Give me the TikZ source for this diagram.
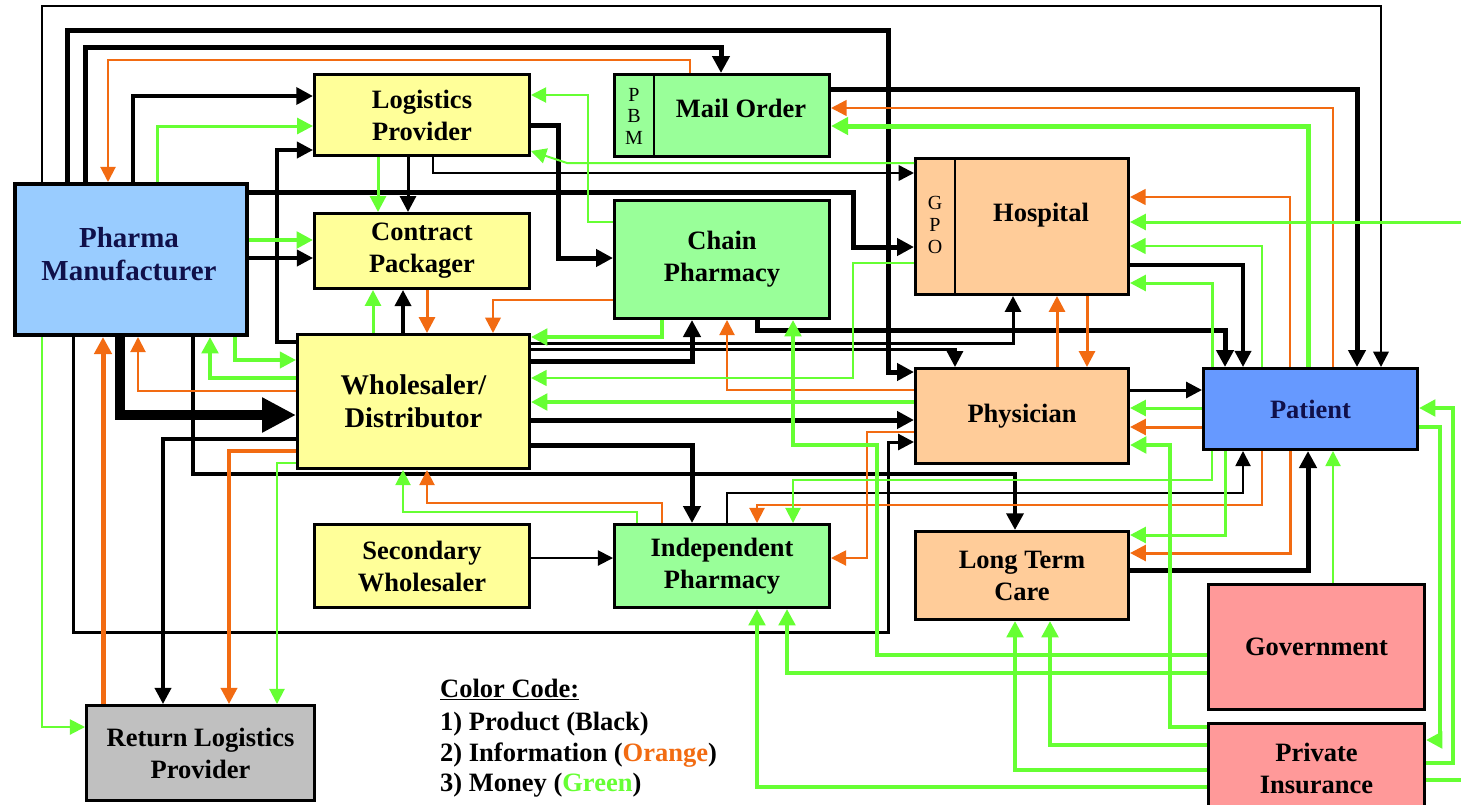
\documentclass[tikz,border=0pt]{standalone}
\usepackage{fontspec}
\setmainfont{Liberation Serif}
\usetikzlibrary{arrows.meta}
\definecolor{lblue}{HTML}{99CCFF}
\definecolor{pblue}{HTML}{6699FF}
\definecolor{yel}{HTML}{FFFF99}
\definecolor{lgr}{HTML}{99FF99}
\definecolor{peach}{HTML}{FFCC99}
\definecolor{pinkb}{HTML}{FF9999}
\definecolor{gryb}{HTML}{C0C0C0}
\definecolor{lnG}{HTML}{66FF33}
\definecolor{lnO}{HTML}{F26B12}
\definecolor{navy}{HTML}{10104A}
\tikzset{
  box/.style={draw=black, line width=3pt, inner sep=0pt, anchor=north west,
    font=\fontsize{26.5}{32}\selectfont\bfseries, align=center},
  lbl/.style={inner sep=0pt, font=\fontsize{26.5}{32}\selectfont\bfseries, align=center},
  small/.style={inner sep=0pt, font=\fontsize{20}{21.5}\selectfont, align=center},
  leg/.style={inner sep=0pt, anchor=base west, font=\fontsize{26.5}{32}\selectfont\bfseries},
  ak/.style={draw=black, line width=#1, -{Triangle[length=14pt 0.6, width=14pt 0.6]}},
  ao/.style={draw=lnO, line width=#1, -{Triangle[length=14pt 0.6, width=14pt 0.6]}},
  ag/.style={draw=lnG, line width=#1, -{Triangle[length=14pt 0.6, width=14pt 0.6]}},
}
\begin{document}
\begin{tikzpicture}[x=1pt,y=-1pt]
\fill[white] (0,0) rectangle (1461,804);
\useasboundingbox (0,0) rectangle (1461,804);

% boxes
\node[box, line width=4pt, fill=lblue, minimum width=232pt, minimum height=151pt] (pharma) at (13,182) {};
\node[lbl, text=navy, font=\fontsize{29}{33}\selectfont\bfseries] (pharmatxt) at (129,254) {Pharma\\Manufacturer};
\node[box, fill=yel, minimum width=215pt, minimum height=81pt] (lp) at (313,73) {Logistics\\Provider};
\node[box, fill=yel, minimum width=215pt, minimum height=75pt] (cp) at (313,212) {Contract\\Packager};
\node[box, fill=yel, minimum width=232pt, minimum height=134pt, font=\fontsize{28.5}{33}\selectfont\bfseries] (whole) at (296,333) {Wholesaler/\\Distributor};
\node[box, fill=yel, minimum width=215pt, minimum height=83pt] (sec) at (313,523) {Secondary\\Wholesaler};
\node[box, fill=lgr, minimum width=215pt, minimum height=82pt] (mail) at (613,73) {};
\node[box, fill=lgr, minimum width=215pt, minimum height=118pt] (chain) at (613,199) {Chain\\Pharmacy};
\node[box, fill=lgr, minimum width=215pt, minimum height=83pt] (indep) at (613,523) {Independent\\Pharmacy};
\node[box, fill=peach, minimum width=213pt, minimum height=136pt] (hosp) at (914,157) {};
\node[box, fill=peach, minimum width=213pt, minimum height=95pt] (phys) at (914,367) {Physician};
\node[box, fill=peach, minimum width=213pt, minimum height=88pt] (ltc) at (914,530) {Long Term\\Care};
\node[box, fill=pblue, text=navy, minimum width=214pt, minimum height=81pt] (patient) at (1202,367) {Patient};
\node[box, fill=pinkb, minimum width=216pt, minimum height=125pt] (gov) at (1207,583) {Government};
\node[box, fill=pinkb, minimum width=216pt, minimum height=90pt] (pi) at (1207,722) {Private\\Insurance};
\node[box, fill=gryb, minimum width=228pt, minimum height=95pt] (rl) at (85,704) {Return Logistics\\Provider};

% dividers and inner labels
\draw[line width=2pt] ([xshift=41pt]mail.north west) -- ([xshift=41pt]mail.south west);
\draw[line width=2pt] ([xshift=41pt]hosp.north west) -- ([xshift=41pt]hosp.south west);
\node[small] (pbm) at (634,116) {P\\B\\M};
\node[lbl] (mailtxt) at (741,108) {Mail Order};
\node[small, font=\fontsize{20}{22}\selectfont] (gpo) at (935,225) {G\\P\\O};
\node[lbl] (hosptxt) at (1041,215) {Hospital};

% ---------- black: product ----------
\draw[ak=2.5pt] (pharma.north -| 42,0) -- (42,6) -- (1381,6) -- (patient.north -| 1381,0);
\draw[ak=5pt] (pharma.north -| 67,0) -- (67,30) -- (888,30) -- (888,372) -- (phys.west |- 0,372);
\draw[ak=5pt] (pharma.north -| 85,0) -- (85,47) -- (721,47) -- (mail.north -| 721,0);
\draw[ak=4.5pt] (pharma.north -| 133,0) -- (133,96) -- (lp.west |- 0,96);
\draw[ak=3.5pt] (whole.west |- 0,342) -- (277,342) -- (277,150) -- (lp.west |- 0,150);
\draw[ak=5pt] (pharma.east |- 0,192) -- (853,192) -- (853,247) -- (hosp.west |- 0,247);
\draw[ak=3.5pt] (pharma.east |- 0,258) -- (cp.west |- 0,258);
\draw[ak=3pt] (lp.south -| 408,0) -- (cp.north -| 408,0);
\draw[ak=2.5pt] (lp.south -| 433,0) -- (433,173) -- (hosp.west |- 0,173);
\draw[ak=5pt] (lp.east |- 0,125) -- (558,125) -- (558,258) -- (chain.west |- 0,258);
\draw[ak=5pt] (mail.east |- 0,89) -- (1357,89) -- (patient.north -| 1357,0);
\draw[ak=3.5pt] (hosp.east |- 0,265) -- (1243,265) -- (patient.north -| 1243,0);
\draw[ak=5pt] (chain.south -| 757,0) -- (757,330) -- (1225,330) -- (patient.north -| 1225,0);
\draw[ak=3pt] (whole.east |- 0,343) -- (1013,343) -- (hosp.south -| 1013,0);
\draw[ak=3pt] (whole.east |- 0,349) -- (955,349) -- (phys.north -| 955,0);
\draw[ak=5pt] (whole.east |- 0,361) -- (692,361) -- (chain.south -| 692,0);
\draw[ak=5pt] (whole.east |- 0,420) -- (phys.west |- 0,420);
\draw[ak=5pt] (whole.east |- 0,445) -- (692,445) -- (indep.north -| 692,0);
\draw[ak=3.5pt] (whole.north -| 403,0) -- (cp.south -| 403,0);
\draw[black, line width=10pt, -{Triangle[length=34pt,width=33pt]}] (pharma.south -| 120,0) -- (120,415) -- (whole.west |- 0,415);
\draw[ak=3pt] (pharma.south -| 73,0) -- (73,632) -- (888,632) -- (888,442) -- (phys.west |- 0,442);
\draw[ak=4.5pt] (pharma.south -| 193,0) -- (193,474) -- (1015,474) -- (ltc.north -| 1015,0);
\draw[ak=3.5pt] (whole.west |- 0,439) -- (163,439) -- (rl.north -| 163,0);
\draw[ak=2pt] (sec.east |- 0,558) -- (indep.west |- 0,558);
\draw[ak=2pt] (indep.north -| 727,0) -- (727,493) -- (1243,493) -- (patient.south -| 1243,0);
\draw[ak=3pt] (phys.east |- 0,390) -- (patient.west |- 0,390);
\draw[ak=5pt] (ltc.east |- 0,570) -- (1308,570) -- (patient.south -| 1308,0);

% ---------- orange: information ----------
\draw[ao=2pt] (mail.north -| 690,0) -- (690,60) -- (108,60) -- (pharma.north -| 108,0);
\draw[ao=2.5pt] (patient.north -| 1333,0) -- (1333,108) -- (mail.east |- 0,108);
\draw[ao=2.5pt] (patient.north -| 1290,0) -- (1290,197) -- (hosp.east |- 0,197);
\draw[ao=3pt] (cp.south -| 427,0) -- (whole.north -| 427,0);
\draw[ao=2.5pt] (chain.west |- 0,300) -- (493,300) -- (whole.north -| 493,0);
\draw[ao=2pt] (phys.west |- 0,390) -- (727,390) -- (chain.south -| 727,0);
\draw[ao=3pt] (phys.north -| 1057,0) -- (hosp.south -| 1057,0);
\draw[ao=3pt] (hosp.south -| 1087,0) -- (phys.north -| 1087,0);
\draw[ao=3pt] (patient.west |- 0,427) -- (phys.east |- 0,427);
\draw[ao=2pt] (phys.west |- 0,432) -- (867,432) -- (867,558) -- (indep.east |- 0,558);
\draw[ao=2pt] (patient.south -| 1262,0) -- (1262,505) -- (757,505) -- (indep.north -| 757,0);
\draw[ao=3pt] (patient.south -| 1290,0) -- (1290,553) -- (ltc.east |- 0,553);
\draw[ao=2pt] (indep.north -| 662,0) -- (662,503) -- (427,503) -- (whole.south -| 427,0);
\draw[ao=2pt] (whole.west |- 0,391) -- (138,391) -- (pharma.south -| 138,0);
\draw[ao=5pt] (rl.north -| 103,0) -- (pharma.south -| 103,0);
\draw[ao=3.5pt] (whole.west |- 0,451) -- (229,451) -- (rl.north -| 229,0);

% ---------- green: money ----------
\draw[ag=3pt] (pharma.north -| 157,0) -- (157,126) -- (lp.west |- 0,126);
\draw[ag=4pt] (pharma.east |- 0,240) -- (cp.west |- 0,240);
\draw[ag=2pt] (chain.west |- 0,222) -- (588,222) -- (588,95) -- (lp.east |- 0,95);
\draw[ag=2pt] (hosp.west |- 0,163) -- (567,163) -- (lp.east |- 0,151);
\draw[ag=3pt] (lp.south -| 378,0) -- (cp.north -| 378,0);
\draw[ag=5pt] (patient.north -| 1308,0) -- (1308,126) -- (mail.east |- 0,126);
\coordinate (edgeH) at (1461,222);
\draw[ag=3pt] (edgeH) -- (hosp.east |- 0,222);
\draw[ag=2.5pt] (patient.north -| 1262,0) -- (1262,246) -- (hosp.east |- 0,246);
\draw[ag=3pt] (patient.north -| 1212,0) -- (1212,283) -- (hosp.east |- 0,283);
\draw[ag=2.5pt] (hosp.west |- 0,263) -- (853,263) -- (853,378) -- (whole.east |- 0,378);
\draw[ag=4pt] (chain.south -| 662,0) -- (662,337) -- (whole.east |- 0,337);
\draw[ag=3pt] (whole.north -| 373,0) -- (cp.south -| 373,0);
\draw[ag=4pt] (gov.west |- 0,655) -- (877,655) -- (877,445) -- (793,445) -- (chain.south -| 793,0);
\draw[ag=4pt] (phys.west |- 0,402) -- (whole.east |- 0,402);
\draw[ag=3.5pt] (pharma.south -| 235,0) -- (235,360) -- (whole.west |- 0,360);
\draw[ag=4pt] (whole.west |- 0,378) -- (210,378) -- (pharma.south -| 210,0);
\draw[ag=2pt] (pharma.south -| 42,0) -- (42,727) -- (rl.west |- 0,727);
\draw[ag=2pt] (whole.west |- 0,463) -- (277,463) -- (rl.north -| 277,0);
\draw[ag=2pt] (indep.north -| 637,0) -- (637,512) -- (403,512) -- (whole.south -| 403,0);
\draw[ag=2pt] (patient.south -| 1212,0) -- (1212,480) -- (793,480) -- (indep.north -| 793,0);
\draw[ag=3pt] (patient.west |- 0,408) -- (phys.east |- 0,408);
\draw[ag=4pt] (pi.west |- 0,727) -- (1170,727) -- (1170,445) -- (phys.east |- 0,445);
\draw[ag=3pt] (patient.south -| 1225,0) -- (1225,535) -- (ltc.east |- 0,535);
\draw[ag=2pt] (gov.north -| 1333,0) -- (patient.south -| 1333,0);
\draw[ag=4pt] (gov.west |- 0,673) -- (787,673) -- (indep.south -| 787,0);
\draw[ag=4pt] (pi.west |- 0,787) -- (757,787) -- (indep.south -| 757,0);
\draw[ag=4pt] (pi.west |- 0,745) -- (1050,745) -- (ltc.south -| 1050,0);
\draw[ag=4pt] (pi.west |- 0,770) -- (1015,770) -- (ltc.south -| 1015,0);
\draw[ag=4pt] (patient.east |- 0,427) -- (1440,427) -- (1440,740) -- (pi.east |- 0,740);
\draw[ag=4pt] (pi.east |- 0,763) -- (1453,763) -- (1453,408) -- (patient.east |- 0,408);
\coordinate (edgeP) at (1461,780);
\draw[draw=lnG, line width=4pt] (pi.east |- 0,780) -- (edgeP);

% legend
\node[leg] (leg0) at (440,697) {\underline{Color Code:}};
\node[leg] (leg1) at (440,730) {1) Product (Black)};
\node[leg] (leg2) at (440,761) {2) Information (\textcolor{lnO}{Orange})};
\node[leg] (leg3) at (440,791) {3) Money (\textcolor{lnG}{Green})};
\end{tikzpicture}
\end{document}
